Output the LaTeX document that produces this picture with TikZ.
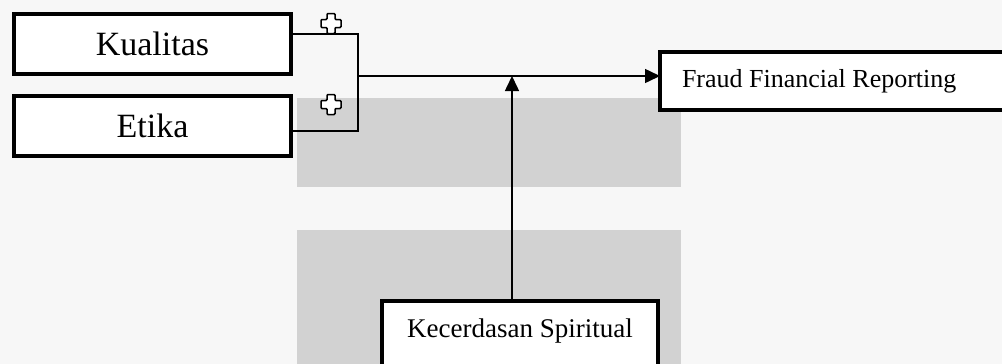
\documentclass[tikz,border=0pt]{standalone}
\usepackage{fontspec}
\setmainfont{Liberation Serif}
\usetikzlibrary{arrows.meta}
\tikzset{
  box/.style={draw=black, fill=white, line width=4.5pt, inner sep=0pt, outer sep=0pt},
  conn/.style={draw=black, line width=1.5pt},
  arr/.style={conn, -{Triangle[length=15pt,width=14pt]}},
  pluscross/.pic={\draw[fill=white, line width=1.5pt, rounded corners=1pt]
     (-4,-10) -- (4,-10) -- (4,-4) -- (10,-4) -- (10,4) -- (4,4) -- (4,10) -- (-4,10) -- (-4,4) -- (-10,4) -- (-10,-4) -- (-4,-4) -- cycle;}
}
\begin{document}
\begin{tikzpicture}[x=1pt,y=-1pt]
\useasboundingbox (0,0) rectangle (1002,364);
\begin{scope}
\clip (0,0) rectangle (1002,364);
\fill[gray!6] (0,0) rectangle (1002,364);
\fill[gray!35] (297,98) rectangle (681,187);
\fill[gray!35] (297,230) rectangle (681,364);

\node[box, minimum width=277pt, minimum height=60pt, font=\fontsize{34}{40}\selectfont] (kual) at (152.5,44) {Kualitas};
\node[box, minimum width=277pt, minimum height=60pt, font=\fontsize{34}{40}\selectfont] (etika) at (152.5,126) {Etika};
\node[box, anchor=west, minimum height=58pt, font=\fontsize{26}{30}\selectfont] (fraud) at (660,81) {\hbox to 370pt{\hspace*{22pt}Fraud Financial Reporting\hfill}};
\node[box, anchor=north, minimum width=276pt, text height=18pt, text depth=50pt, inner ysep=18pt, font=\fontsize{27}{32}\selectfont] (kec) at (520,301) {Kecerdasan Spiritual};

\coordinate (j1) at (358,34);
\coordinate (j2) at (358,131);
\coordinate (j) at (358,76);
\coordinate (kt) at (512,301);
\draw[conn] (kual.east |- j1) -- (j1) -- (j2) -- (etika.east |- j2);
\draw[arr] (j) -- (j -| fraud.west);
\draw[arr] (kec.north -| kt) -- (kt |- j);

\pic at (331,23.5) {pluscross};
\pic at (331,104.5) {pluscross};
\end{scope}
\end{tikzpicture}
\end{document}
